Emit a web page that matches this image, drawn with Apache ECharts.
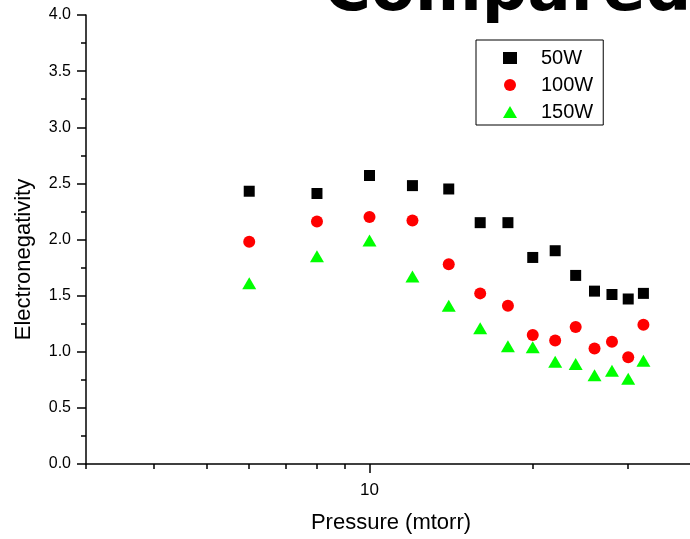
<!DOCTYPE html>
<html>
<head>
<meta charset="utf-8">
<script src="https://cdn.jsdelivr.net/npm/echarts@6/dist/echarts.min.js"></script>
<style>
  html, body { margin: 0; padding: 0; background: #fff; }
  #chart { width: 690px; height: 539px; }
</style>
</head>
<body>
<div id="chart"></div>
<script>
// Pressure in mtorr
const pressure = [6, 8, 10, 12, 14, 16, 18, 20, 22, 24, 26, 28, 30, 32];
// Electronegativity at each RF power
const power50W  = [2.43, 2.41, 2.57, 2.48, 2.45, 2.15, 2.15, 1.84, 1.90, 1.68, 1.54, 1.51, 1.47, 1.52];
const power100W = [1.98, 2.16, 2.20, 2.17, 1.78, 1.52, 1.41, 1.15, 1.10, 1.22, 1.03, 1.09, 0.95, 1.24];
const power150W = [1.61, 1.85, 1.99, 1.67, 1.41, 1.21, 1.05, 1.04, 0.91, 0.89, 0.79, 0.83, 0.76, 0.92];
const seriesNames = ['50W', '100W', '150W'];
const minorPressureTicks = [3, 4, 5, 6, 7, 8, 9, 20, 30];
const majorPressureTicks = [10];

const pairs = ys => pressure.map((p, i) => [p, ys[i]]);
const font = 'Liberation Sans';

const chart = echarts.init(document.getElementById('chart'), null, { renderer: 'canvas' });

const xBase = {
  type: 'log',
  logBase: 10,
  min: 3,
  max: 39,
  splitLine: { show: false },
  minorTick: { show: false }
};

chart.setOption({
  animation: false,
  backgroundColor: '#ffffff',
  textStyle: { fontFamily: font },
  grid: { left: 86, right: 0, top: 15, bottom: 72 },
  graphic: [{
    type: 'text',
    left: 324,
    top: -39,
    silent: true,
    style: { text: 'Compared', font: 'bold 64px "DejaVu Sans"', fill: '#000' }
  }],
  legend: {
    orient: 'vertical',
    left: 476,
    top: 40,
    selectedMode: false,
    borderColor: '#000',
    borderWidth: 1,
    padding: [8, 10, 3, 27],
    itemGap: 7,
    itemWidth: 14,
    itemHeight: 12,
    textStyle: { fontFamily: font, fontSize: 20, lineHeight: 20, color: '#000', padding: [0, 0, 0, 19] },
    data: seriesNames
  },
  xAxis: [
    Object.assign({}, xBase, {
      position: 'bottom',
      axisLine: { show: true, lineStyle: { color: '#000', width: 1.5 } },
      axisTick: { show: true, length: 5, customValues: minorPressureTicks, lineStyle: { color: '#000', width: 1.5 } },
      axisLabel: { show: false },
      name: 'Pressure (mtorr)',
      nameLocation: 'middle',
      nameGap: 48,
      nameTextStyle: { fontFamily: font, fontSize: 22, color: '#000', padding: [0, 0, 0, 6] }
    }),
    Object.assign({}, xBase, {
      position: 'bottom',
      axisLine: { show: false },
      axisTick: { show: true, length: 9, customValues: majorPressureTicks, lineStyle: { color: '#000', width: 1.5 } },
      axisLabel: { show: true, customValues: majorPressureTicks, margin: 18, fontSize: 17, color: '#000', fontFamily: font }
    })
  ],
  yAxis: {
    type: 'value',
    min: 0,
    max: 4,
    interval: 0.5,
    splitLine: { show: false },
    axisLine: { show: true, lineStyle: { color: '#000', width: 1.5 } },
    axisTick: { show: true, length: 9, lineStyle: { color: '#000', width: 1.5 } },
    minorTick: { show: true, splitNumber: 2, length: 5, lineStyle: { color: '#000', width: 1.5 } },
    axisLabel: { margin: 15, fontSize: 16, color: '#000', fontFamily: font, formatter: v => v.toFixed(1) },
    name: 'Electronegativity',
    nameLocation: 'middle',
    nameGap: 51,
    nameTextStyle: { fontFamily: font, fontSize: 22, color: '#000', padding: [0, 40, 0, 0] }
  },
  series: [
    { name: seriesNames[0], type: 'scatter', xAxisIndex: 0, symbol: 'rect', symbolSize: 11,
      itemStyle: { color: '#000000', opacity: 1 }, data: pairs(power50W) },
    { name: seriesNames[1], type: 'scatter', xAxisIndex: 0, symbol: 'circle', symbolSize: 12,
      itemStyle: { color: '#ff0000', opacity: 1 }, data: pairs(power100W) },
    { name: seriesNames[2], type: 'scatter', xAxisIndex: 0, symbol: 'triangle', symbolSize: [14, 12],
      itemStyle: { color: '#00ff00', opacity: 1 }, data: pairs(power150W) }
  ]
});
</script>
</body>
</html>
